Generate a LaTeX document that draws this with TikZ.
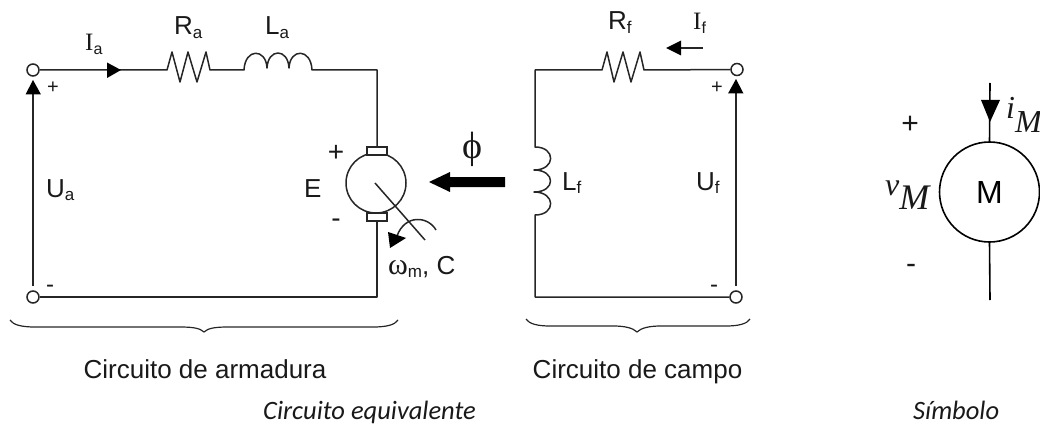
\documentclass[tikz,border=0pt]{standalone}
\usepackage{fontspec}
\setmainfont{Liberation Sans}
\newfontfamily\serf{Liberation Serif}
\newfontfamily\carl{Carlito}
\tikzset{
  wire/.style={draw=black!85,line width=1.5pt,line join=round},
  thin wire/.style={draw=black!85,line width=1.2pt},
  term/.style={circle,draw=black!85,fill=white,line width=1.5pt,minimum size=12pt,inner sep=0pt},
  head/.style={fill=black,draw=none},
  lab/.style={inner sep=0pt,anchor=base west,text=black!90},
  cen/.style={inner sep=0pt,anchor=base,text=black!90},
}
\newcommand{\fs}[1]{\fontsize{#1}{#1}\selectfont}
\begin{document}
\begin{tikzpicture}[x=1pt,y=-1pt]
\useasboundingbox (0,0) rectangle (1040,425);
% armature
\coordinate (ra1) at (167,70); \coordinate (ra2) at (210,70);
\coordinate (la1) at (244,70); \coordinate (la2) at (312,70);
\coordinate (corner1) at (377,70);
\node[circle,draw=black!85,line width=1.5pt,minimum size=60pt,inner sep=0pt] (motor) at (376,183) {};
\node[draw=black!85,fill=white,line width=1.3pt,minimum width=20pt,minimum height=8pt,inner sep=0pt] (b1) at (377,151) {};
\node[draw=black!85,fill=white,line width=1.3pt,minimum width=20pt,minimum height=8pt,inner sep=0pt] (b2) at (377,217) {};
\node[term] (ta1) at (33,70) {};
\node[term] (ta2) at (33,297) {};
\coordinate (corner2) at (377,297);
\draw[wire] (ta1) -- (ra1) -- (172,52) -- (180,82) -- (188,52) -- (197,82) -- (206,52) -- (ra2) -- (la1)
  .. controls (245,48) and (266,48) .. (267,68)
  .. controls (268,48) and (288,48) .. (289,68)
  .. controls (290,48) and (311,48) .. (la2) -- (corner1) -- (b1.north);
\draw[wire] (b2.south) -- (corner2) -- (ta2);
\draw[head] (121,70) -- (107,62.5) -- (107,78) -- cycle;
% Ua
\coordinate (ua) at (33,286); \coordinate (uat) at (33,92);
\draw[wire] (ua) -- (uat);
\draw[head] (33,80) -- (25.5,94.5) -- (41,94.5) -- cycle;
% shaft
\coordinate (s1) at (375,183); \coordinate (s2) at (425,240);
\draw[wire] (s1) -- (s2);
\coordinate (w1) at (436,230); \coordinate (w2) at (397,236);
\draw[wire] (w1) .. controls (428,216) and (405,214) .. (w2);
\draw[head] (390,248) -- (388,232) -- (406,238) -- cycle;
% flux arrow
\draw[head] (429,182) -- (450,172) -- (450,177) -- (505,177) -- (505,187) -- (450,187) -- (450,192) -- cycle;
% field
\node[term] (tf1) at (737,69.5) {};
\node[term] (tf2) at (736,297) {};
\coordinate (f1) at (535,70); \coordinate (f2) at (535,147); \coordinate (f3) at (535,215); \coordinate (f4) at (535,297);
\draw[wire] (tf1) -- (644,70) -- (640,52) -- (631,82) -- (623,52) -- (614,82) -- (607,52) -- (602,70) -- (f1) -- (f2)
  .. controls (556,147) and (556,170) .. (534,170)
  .. controls (556,170) and (556,192) .. (534,192)
  .. controls (556,192) and (556,215) .. (f3) -- (f4) -- (tf2);
\coordinate (uf) at (736,286); \coordinate (uft) at (736,92);
\draw[wire] (uf) -- (uft);
\draw[head] (736,79) -- (728,93.5) -- (743.5,93.5) -- cycle;
\coordinate (if1) at (703,48); \coordinate (if2) at (680,48);
\draw[wire] (if1) -- (if2);
\draw[head] (666,48) -- (681,40.5) -- (681,55.5) -- cycle;
% labels
\node[lab] (Ia) at (85,51) {\fs{25}{\serf I}\raisebox{-3.5pt}{\fs{16}a}};
\node[lab] (Ra) at (174,35) {\fs{26}R\raisebox{-3.5pt}{\fs{17}a}};
\node[lab] (La) at (265,35) {\fs{26}L\raisebox{-3.5pt}{\fs{17}a}};
\node[lab] (If) at (693,30) {\fs{25}{\serf I}\raisebox{-3.5pt}{\fs{16}f}};
\node[lab] (Rf) at (608,30) {\fs{26}R\raisebox{-3.5pt}{\fs{17}f}};
\node[lab] (Ua) at (46,197) {\fs{26}U\raisebox{-3.5pt}{\fs{17}a}};
\node[lab] (Uf) at (696,190) {\fs{26}U\raisebox{-3.5pt}{\fs{17}f}};
\node[lab] (Lf) at (562,190) {\fs{26}L\raisebox{-3.5pt}{\fs{17}f}};
\node[lab] (E) at (304,197) {\fs{26}E};
\node[cen] (p1) at (53,94) {\fs{20}+};
\node[cen] (p2) at (717,94) {\fs{20}+};
\node[cen] (p3) at (336,161) {\fs{28}+};
\node[cen] (m1) at (50,292) {\fs{24}-};
\node[cen] (m2) at (714,292) {\fs{24}-};
\node[cen] (m3) at (336,227) {\fs{28}-};
\node[cen] (phi) at (472,158) {\fs{38}{\serf ϕ}};
\node[lab] (om) at (388,274) {\fs{30}{\serf ω}\raisebox{-3.5pt}{\fs{17}m}\fs{26}, C};
% braces
\coordinate (bl1) at (10,320); \coordinate (blt) at (204,332); \coordinate (bl2) at (398,320);
\draw[thin wire] (bl1) .. controls (13,325) and (22,327) .. (35,327) -- (180,327) .. controls (192,327) and (200,328) .. (blt)
  .. controls (208,328) and (216,327) .. (228,327) -- (373,327) .. controls (386,327) and (395,325) .. (bl2);
\coordinate (br1) at (526,319); \coordinate (brt) at (637,332); \coordinate (br2) at (750,319);
\draw[thin wire] (br1) .. controls (529,324) and (538,326) .. (550,326) -- (613,326) .. controls (625,326) and (633,328) .. (brt)
  .. controls (641,328) and (649,326) .. (661,326) -- (726,326) .. controls (738,326) and (747,324) .. (br2);
\node[cen] (c1) at (205,378) {\fs{26}Circuito de armadura};
\node[cen] (c2) at (637.5,378) {\fs{26}Circuito de campo};
\node[lab] (c3) at (263,419.5) {\fs{26.5}\carl\itshape Circuito equivalente};
\node[lab] (c4) at (913,419.5) {\fs{26.5}\carl\itshape Símbolo};
% symbol
\node[circle,draw=black,line width=1.6pt,minimum size=100pt,inner sep=0pt] (M) at (989.5,192) {\fs{32}M};
\coordinate (s3) at (990,83); \coordinate (s4) at (990,300);
\draw[wire,draw=black,line width=1.6pt] (s3) -- (M.north);
\draw[wire,draw=black,line width=1.6pt] (M.south) -- (s4);
\draw[head] (990,122) -- (981,100) -- (1000,100) -- cycle;
\node[cen] (sp) at (910,133) {\fs{30}+};
\node[cen] (sm) at (911,273) {\fs{30}-};
\node[lab] (vm) at (885,195) {\fs{32}\serf\itshape v\raisebox{-14pt}{\fs{36}M}};
\node[lab] (im) at (1006,118) {\fs{32}\serf\itshape i\raisebox{-14pt}{M}};
\end{tikzpicture}
\end{document}
